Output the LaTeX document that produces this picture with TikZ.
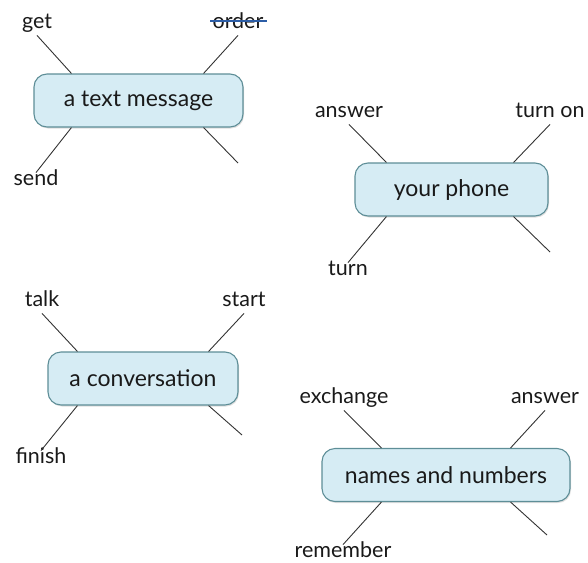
\documentclass[tikz,border=0pt]{standalone}
\usepackage{fontspec}
\setmainfont{Lato}
\usepackage{tikz}
\usetikzlibrary{shadows}
\definecolor{boxfill}{HTML}{D6ECF4}
\definecolor{boxedge}{HTML}{5E8E97}
\definecolor{spokegray}{HTML}{333333}
\definecolor{strikeblue}{HTML}{2C5DA6}
\tikzset{
  phrase/.style={draw=boxedge, line width=1.1pt, fill=boxfill, rounded corners=13pt,
    minimum height=53pt, font=\fontsize{23}{27}\selectfont, text=black!90,
    drop shadow={shadow xshift=1pt, shadow yshift=-1.5pt, opacity=0.25}},
  verb/.style={font=\fontsize{21.5}{25}\selectfont, text=black!90, anchor=base,
    text height=0.72em, text depth=0.22em, inner sep=5pt},
  spoke/.style={spokegray, line width=0.9pt}
}

\begin{document}
\begin{tikzpicture}[x=1pt, y=-1pt]
  \useasboundingbox (0,0) rectangle (588,562);
  \node[phrase, minimum width=209pt] (msg) at (138.5,100.5) {a text message};
  \node[phrase, minimum width=193pt] (phone) at (451.5,189.5) {your phone};
  \node[phrase, minimum width=190pt] (talkbox) at (143,378.5) {a conversation};
  \node[phrase, minimum width=248pt] (names) at (446,475) {names and numbers};

  \node[verb] (get) at (37,28) {get};
  \node[verb] (order) at (238,28) {order};
  \node[verb] (send) at (36,185) {send};
  \coordinate (msgend) at (238,163);
  \draw[spoke] ([xshift=38pt]msg.north west) -- (get.south);
  \draw[spoke] ([xshift=-40pt]msg.north east) -- (order.south);
  \draw[spoke] ([xshift=38pt]msg.south west) -- (send.north);
  \draw[spoke] ([xshift=-40pt]msg.south east) -- (msgend);
  \draw[strikeblue, line width=1.2pt] ([xshift=3pt, yshift=7pt]order.base west) -- ([xshift=-2pt, yshift=7pt]order.base east);

  \node[verb] (answerA) at (349,117) {answer};
  \node[verb] (turnon) at (550,117) {turn on};
  \node[verb] (turn) at (348,275) {turn};
  \coordinate (phoneend) at (550,252);
  \draw[spoke] ([xshift=32pt]phone.north west) -- (answerA.south);
  \draw[spoke] ([xshift=-35pt]phone.north east) -- (turnon.south);
  \draw[spoke] ([xshift=32pt]phone.south west) -- (turn.north);
  \draw[spoke] ([xshift=-35pt]phone.south east) -- (phoneend);

  \node[verb] (talk) at (42,306) {talk};
  \node[verb] (start) at (244,306) {start};
  \node[verb] (finish) at (41,463) {finish};
  \coordinate (talkend) at (242,435);
  \draw[spoke] ([xshift=30pt]talkbox.north west) -- (talk.south);
  \draw[spoke] ([xshift=-30pt]talkbox.north east) -- (start.south);
  \draw[spoke] ([xshift=30pt]talkbox.south west) -- (finish.north);
  \draw[spoke] ([xshift=-30pt]talkbox.south east) -- (talkend);

  \node[verb] (exchange) at (344,403) {exchange};
  \node[verb] (answerB) at (545,403) {answer};
  \node[verb] (remember) at (343,557) {remember};
  \coordinate (namesend) at (547,535);
  \draw[spoke] ([xshift=60pt]names.north west) -- (exchange.south);
  \draw[spoke] ([xshift=-60pt]names.north east) -- (answerB.south);
  \draw[spoke] ([xshift=60pt]names.south west) -- (remember.north);
  \draw[spoke] ([xshift=-60pt]names.south east) -- (namesend);
\end{tikzpicture}
\end{document}
